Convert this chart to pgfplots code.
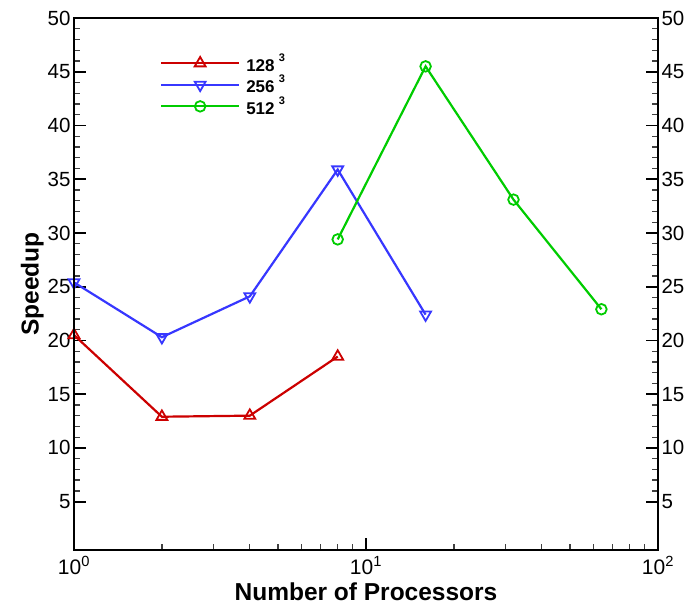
\documentclass[border=0pt]{standalone}
\usepackage{pgfplots}
\pgfplotsset{compat=1.18}
\usepackage{fontspec}
\setmainfont{Liberation Sans}
\definecolor{cred}{RGB}{204,0,0}
\definecolor{cblue}{RGB}{55,55,255}
\definecolor{cgreen}{RGB}{0,204,0}
\begin{document}
\begin{tikzpicture}
\begin{axis}[name=main,
  scale only axis, width=584pt, height=532pt,
  xmode=log, xmin=1, xmax=100, ymin=0.5, ymax=50,
  ytick={5,10,...,50}, minor y tick num=4,
  tick align=inside,
  xtick pos=bottom, ytick pos=left,
  axis line style={line width=2.6pt},
  major tick length=12pt, minor tick length=6.5pt,
  major tick style={black, line width=1.8pt},
  minor tick style={black!75, line width=1.3pt},
  yticklabel style={font=\fontsize{20.5}{22}\selectfont},
  /pgf/number format/assume math mode=true,
  xtick={1,10,100},
  xticklabels={\mbox{10\textsuperscript{0}},\mbox{10\textsuperscript{1}},\mbox{10\textsuperscript{2}}},
  xticklabel style={font=\fontsize{21}{22}\selectfont, yshift=-3pt},
  xlabel={\textbf{Number of Processors}},
  ylabel={\textbf{Speedup}},
  xlabel style={font=\fontsize{24.5}{26}\selectfont, yshift=-1pt},
  ylabel style={font=\fontsize{24.5}{26}\selectfont, yshift=-3pt},
  legend style={at={(rel axis cs:0.147,0.937)}, anchor=north west, draw=none, fill=none,
    inner sep=0pt, font=\bfseries\fontsize{17}{18}\selectfont, row sep=-1.5pt},
  legend cell align=left,
  legend image code/.code={
    \draw[#1, line width=2.2pt, mark repeat=2, mark phase=2] plot coordinates {(0pt,0pt) (39pt,0pt) (78pt,0pt)};
  },
]
\addplot[cred, line width=2.2pt, mark=triangle, mark size=6.3pt, mark options={line width=1.8pt, fill=white}]
  coordinates {(1,20.5) (2,12.9) (4,13.0) (8,18.5)};
\addlegendentry{\hspace{4pt}128\hspace{0.25em}\raisebox{1.1ex}{\fontsize{11}{12}\selectfont 3}}
\addplot[cblue, line width=2.2pt, mark=triangle, mark size=6.3pt, mark options={rotate=180, line width=1.8pt, fill=white}]
  coordinates {(1,25.4) (2,20.3) (4,24.1) (8,35.9) (16,22.4)};
\addlegendentry{\hspace{4pt}256\hspace{0.25em}\raisebox{1.1ex}{\fontsize{11}{12}\selectfont 3}}
\addplot[cgreen, line width=2.2pt, mark=o, mark size=5.3pt, mark options={line width=1.8pt, fill=white}]
  coordinates {(8,29.4) (16,45.5) (32,33.1) (64,22.9)};
\addlegendentry{\hspace{4pt}512\hspace{0.25em}\raisebox{1.1ex}{\fontsize{11}{12}\selectfont 3}}
\end{axis}
\begin{axis}[
  scale only axis, width=584pt, height=532pt,
  xmin=0, xmax=2, ymin=0.5, ymax=50,
  ytick={5,10,...,50}, minor y tick num=4,
  tick align=inside,
  axis line style={line width=2.6pt},
  major tick length=12pt, minor tick length=6.5pt,
  major tick style={black, line width=1.8pt},
  minor tick style={black!75, line width=1.3pt},
  yticklabel style={font=\fontsize{20.5}{22}\selectfont},
  /pgf/number format/assume math mode=true,
  hide x axis, axis y line*=right,
  yticklabel pos=right,
]
\end{axis}
\draw[black, line width=2.6pt] (main.south west) rectangle (main.north east);
\path ([shift={(-74pt,-55pt)}]main.south west) rectangle ([shift={(34pt,18pt)}]main.north east);
\end{tikzpicture}
\end{document}
